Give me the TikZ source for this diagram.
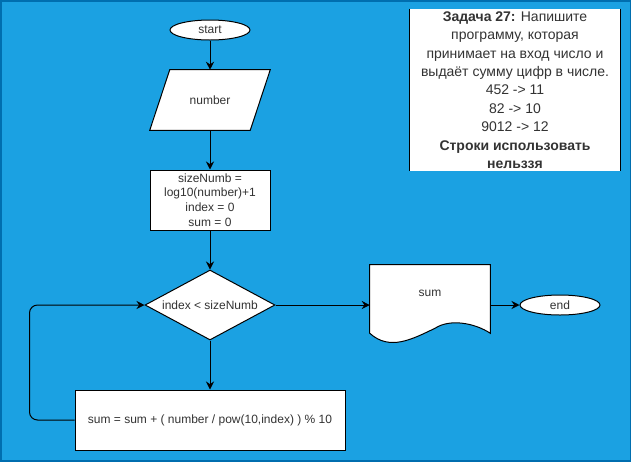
\documentclass[tikz,border=0pt]{standalone}
\usepackage{fontspec}
\setmainfont{Liberation Sans}
\usetikzlibrary{shapes.geometric,arrows.meta,calc}
\definecolor{bgblue}{HTML}{1BA1E2}
\definecolor{edgeblue}{HTML}{006EAF}
\definecolor{txtgray}{HTML}{333333}
\tikzset{
  every node/.style={font=\fontsize{9pt}{11pt}\selectfont, text=txtgray, inner sep=0pt, align=center},
  term/.style={ellipse, draw=black, fill=white, line width=0.75pt, minimum width=60pt, minimum height=15pt},
  procbox/.style={rectangle, draw=black, fill=white, line width=0.75pt},
  decis/.style={diamond, aspect=1.857, draw=black, fill=white, line width=0.75pt, minimum width=97.5pt, minimum height=52.5pt},
  shapeline/.style={draw=black, fill=white, line width=0.75pt},
  flow/.style={draw=black, line width=0.75pt, -{Stealth[length=6pt, width=6pt, inset=2pt]}},
}
\begin{document}
\begin{tikzpicture}[x=0.75pt, y=-0.75pt]
\useasboundingbox (0,0) rectangle (631,461);
\fill[bgblue] (0,0) rectangle (631,461);
\draw[edgeblue, line width=1.5pt] (0.5,0.5) rectangle (630.5,460.5);

% task text box
\node[fill=white, minimum width=157.5pt, minimum height=121.5pt,
      font=\fontsize{10.5pt}{13.8pt}\selectfont] (task) at (515,90)
  {\textbf{Задача 27:} Напишите\\ программу, которая\\ принимает на вход число и\\ выдаёт сумму цифр в числе.\\ 452 -> 11\\ 82 -> 10\\ 9012 -> 12\\ \textbf{Строки использовать}\\ \textbf{нельззя}};
\draw[black, line width=0.75pt] (task.north west) -- (task.south west);
\draw[black, line width=0.75pt] (task.north east) -- (task.south east);

% start
\node[term] (start) at (210,30) {start};

% input parallelogram
\node[minimum width=90pt, minimum height=45pt] (num) at (210,100) {};
\draw[shapeline] (num.south west) -- ($(num.north west)+(20,0)$) -- (num.north east) -- ($(num.south east)+(-20,0)$) -- cycle;
\node (numtext) at (num.center) {number};

% init box
\node[procbox, minimum width=90pt, minimum height=45pt] (init) at (210,200)
  {sizeNumb =\\ log10(number)+1\\ index = 0\\ sum = 0};

% decision
\node[decis] (dia) at (210,305) {index < sizeNumb};

% calc box
\node[procbox, minimum width=202.5pt, minimum height=45pt] (calc) at (210,420)
  {sum = sum + ( number / pow(10,index) ) \% 10};

% document
\node[minimum width=90pt, minimum height=60pt] (doc) at (430,305) {};
\draw[shapeline] ($(doc.south west)+(0,-12)$) -- (doc.north west) -- (doc.north east) -- ($(doc.south east)+(0,-12)$)
  .. controls ($(doc.south east)+(-15,-22)$) and ($(doc.south east)+(-40,-27)$) .. ($(doc.south)+(5,-17)$)
  .. controls ($(doc.south)+(-18,-6)$) and ($(doc.south west)+(20,6)$) .. ($(doc.south west)+(0,-12)$) -- cycle;
\node (doctext) at (430,293) {sum};

% end
\node[term] (end) at (560,305) {end};

% connectors
\draw[flow] (start) -- (num.north);
\draw[flow] (num.south) -- (init.north);
\draw[flow] (init.south) -- (dia.north);
\draw[flow] (dia.south) -- (calc.north);
\draw[flow] (dia.east) -- (doc.west);
\draw[flow] (doc.east) -- (end.west);
\draw[flow, rounded corners=6pt] (calc.west) -- ++(-45,0) |- (dia.west);
\end{tikzpicture}
\end{document}
